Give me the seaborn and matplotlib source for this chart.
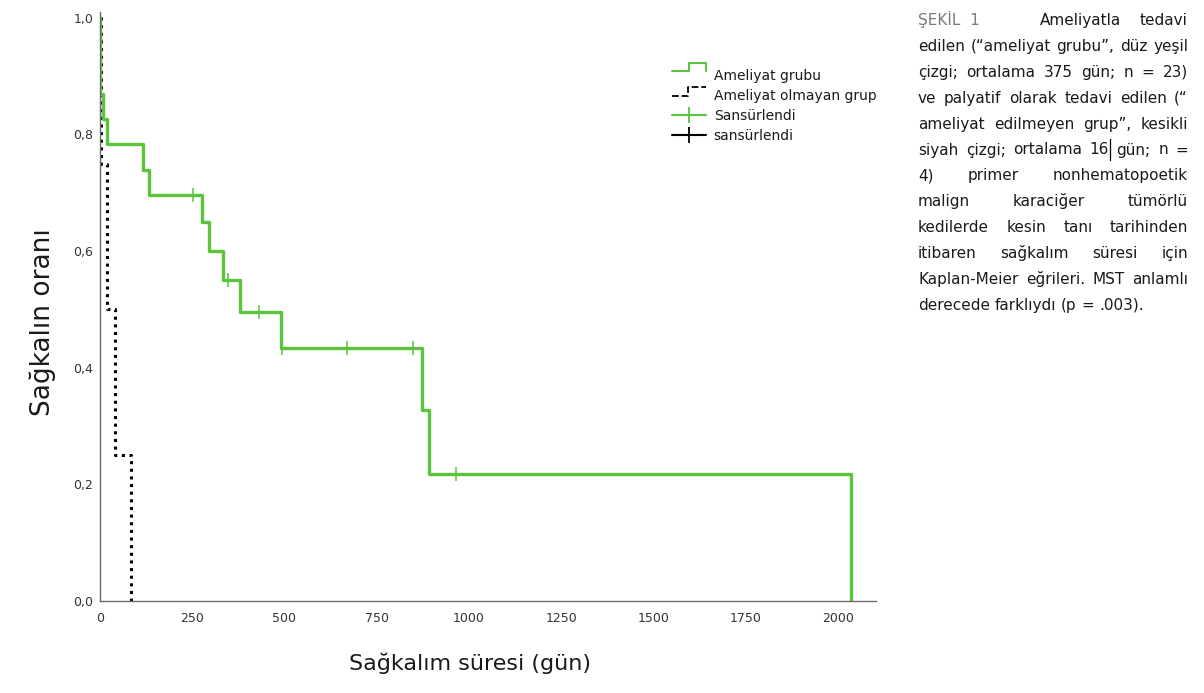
import matplotlib
matplotlib.use("Agg")
import matplotlib.pyplot as plt
import seaborn as sns
import pandas as pd
from matplotlib.lines import Line2D
from matplotlib.legend_handler import HandlerBase

# Kaplan-Meier steps
surgery_days = [0, 1, 8, 18, 117, 133, 276, 295, 333, 379, 490, 873, 892, 2035]
surgery_surv = [1.0, 0.87, 0.826, 0.783, 0.739, 0.696, 0.65, 0.60, 0.55, 0.496, 0.434, 0.328, 0.218, 0.0]
surgery_cens_days = [252, 347, 431, 492, 669, 848, 965]
surgery_cens_surv = [0.696, 0.55, 0.496, 0.434, 0.434, 0.434, 0.218]

nosurg_days = [0, 3, 19, 42, 84]
nosurg_surv = [1.0, 0.75, 0.5, 0.25, 0.0]

x_ticks = [0, 250, 500, 750, 1000, 1250, 1500, 1750, 2000]
y_ticks = [0.0, 0.2, 0.4, 0.6, 0.8, 1.0]
y_tick_labels = ["0,0", "0,2", "0,4", "0,6", "0,8", "1,0"]

legend_labels = ["Ameliyat grubu", "Ameliyat olmayan grup", "Sansürlendi", "sansürlendi"]

caption_head = "ŞEKİL  1"
caption_lines = [
    "Ameliyatla tedavi",
    "edilen (“ameliyat grubu”, düz yeşil",
    "çizgi; ortalama 375 gün; n = 23)",
    "ve palyatif olarak tedavi edilen (“",
    "ameliyat edilmeyen grup”, kesikli",
    "siyah çizgi; ortalama 16 gün; n =",
    "4) primer nonhematopoetik",
    "malign karaciğer tümörlü",
    "kedilerde kesin tanı tarihinden",
    "itibaren sağkalım süresi için",
    "Kaplan-Meier eğrileri. MST anlamlı",
    "derecede farklıydı (p = .003).",
]

GREEN = "#5cc33c"
W, H = 1204, 693

sns.set_style("white")
plt.rcParams["font.family"] = ["DejaVu Sans"]

fig = plt.figure(figsize=(W / 100, H / 100), dpi=100)
ax = fig.add_axes([100 / W, 92 / H, 776 / W, 589 / H])

surg = pd.DataFrame({"day": surgery_days, "surv": surgery_surv})
nos = pd.DataFrame({"day": nosurg_days, "surv": nosurg_surv})
cens = pd.DataFrame({"day": surgery_cens_days, "surv": surgery_cens_surv})

sns.lineplot(data=nos, x="day", y="surv", ax=ax, color="black", lw=2.2,
             linestyle=(0, (1.0, 1.5)), drawstyle="steps-post", estimator=None, sort=False)
sns.lineplot(data=surg, x="day", y="surv", ax=ax, color=GREEN, lw=2.4,
             drawstyle="steps-post", estimator=None, sort=False)
sns.scatterplot(data=cens, x="day", y="surv", ax=ax, marker="|", s=90,
                color=GREEN, linewidth=1.1, zorder=5)

ax.set_xlim(0, 2103)
ax.set_ylim(0, 1.01)
ax.set_xticks(x_ticks)
ax.set_yticks(y_ticks)
ax.set_yticklabels(y_tick_labels)
sns.despine(ax=ax)
for s in ["left", "bottom"]:
    ax.spines[s].set_color("#6a6a6a")
    ax.spines[s].set_linewidth(1.0)
ax.tick_params(axis="x", length=0, pad=8, labelsize=9, labelcolor="#333333")
ax.tick_params(axis="y", length=0, pad=5, labelsize=9, labelcolor="#333333")
ax.set_xlabel("Sağkalım süresi (gün)", fontsize=16, color="#1a1a1a")
ax.set_ylabel("Sağkalın oranı", fontsize=19, color="#1a1a1a")
ax.xaxis.set_label_coords(370 / 776, -51 / 589)
ax.yaxis.set_label_coords(-44 / 776, 279 / 589)


class StepHandler(HandlerBase):
    # step glyph: lo/hi are pixel offsets from the row centre
    def __init__(self, lo, hi, split, drop):
        super().__init__()
        self.lo, self.hi, self.split, self.drop = lo, hi, split, drop

    def create_artists(self, legend, orig_handle, xdescent, ydescent,
                       width, height, fontsize, trans):
        x0 = -xdescent
        c = -ydescent + height / 2
        k = 0.72  # px -> pt
        lo, hi = c + self.lo * k, c + self.hi * k
        xm = x0 + self.split * width
        xs = [x0, xm, xm, x0 + width]
        ys = [lo, lo, hi, hi]
        if self.drop:
            xs.append(x0 + width)
            ys.append(lo)
        ln = Line2D(xs, ys, color=orig_handle.get_color(),
                    linestyle=orig_handle.get_linestyle(),
                    lw=orig_handle.get_linewidth(), transform=trans)
        return [ln]


h1 = Line2D([], [], color=GREEN, lw=1.5)
h2 = Line2D([], [], color="black", lw=1.3, linestyle=(0, (3, 4)))
h3 = Line2D([0], [0], color=GREEN, lw=1.5, marker="|", markersize=12, markeredgewidth=1.3)
h4 = Line2D([0], [0], color="black", lw=1.5, marker="|", markersize=12, markeredgewidth=1.3)
leg = ax.legend([h1, h2, h3, h4], legend_labels,
                handler_map={h1: StepHandler(4, 12, 0.5, True),
                             h2: StepHandler(-1, 8, 0.48, False)},
                loc="upper left", bbox_to_anchor=(572 / 776, 1 - 57 / 589),
                frameon=False, fontsize=10, handlelength=2.45, handletextpad=0.55,
                labelspacing=0.42, borderaxespad=0, borderpad=0)
for t in leg.get_texts():
    t.set_color("#1a1a1a")

# justified caption on the right
renderer = fig.canvas.get_renderer()
cap_size = 11
left, right = 918, 1188


def width_px(s):
    t = fig.text(0, 0, s, fontsize=cap_size)
    w = t.get_window_extent(renderer).width
    t.remove()
    return w


space_w = width_px("a b") - width_px("ab")
fig.text(left / W, 1 - 25 / H, caption_head, fontsize=cap_size, color="#7a7a7a", va="baseline")
for i, line in enumerate(caption_lines):
    base = 25 + 25.9 * i
    x_start = 1040 if i == 0 else left
    tokens = line.split(" ")
    widths = [width_px(w) for w in tokens]
    if i == len(caption_lines) - 1 or len(tokens) == 1:
        gap = space_w
    else:
        gap = max(space_w * 0.6, (right - x_start - sum(widths)) / (len(tokens) - 1))
    x = x_start
    for word, wd in zip(tokens, widths):
        fig.text(x / W, 1 - base / H, word, fontsize=cap_size, color="#1a1a1a", va="baseline")
        if i == 5 and word == "16":
            # text cursor visible in the reference after "16"
            fig.add_artist(Line2D([(x + wd + 1) / W] * 2,
                                  [1 - (base + 5) / H, 1 - (base - 16) / H],
                                  color="black", lw=0.9))
        x += wd + gap

fig.savefig("out.png", dpi=100)
